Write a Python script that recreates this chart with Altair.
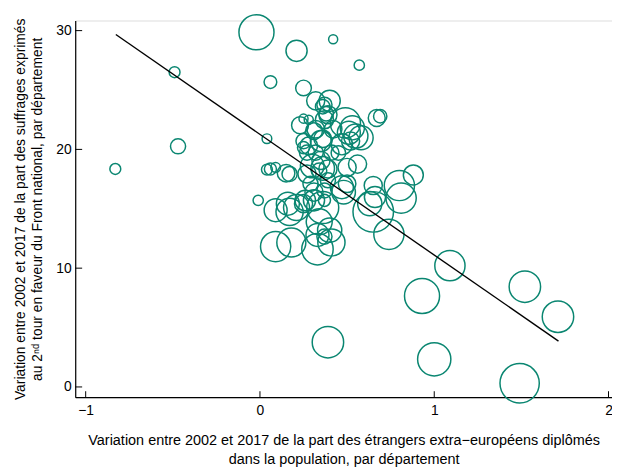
import altair as alt
import pandas as pd

# Bubble data: x = variation of share of non-European graduate foreigners,
# y = variation of FN vote share, r = relative bubble radius (population weight)
XS = [-0.83, -0.49, -0.47, -0.02, 0.21, 0.42, 0.57, 0.06, 0.25, 0.04,
      -0.01, 0.06, 0.04, 0.09, 0.39, 0.93, 1.00, 1.09, 1.52, 1.71,
      1.49, 0.88, 0.80, 0.81, 0.65, 0.66, 0.63, 0.65, 0.74, 0.09,
      0.18, 0.33, 0.41, 0.33, 0.37, 0.40, 0.09, 0.16, 0.17, 0.25,
      0.31, 0.37, 0.47, 0.17, 0.27, 0.34, 0.39, 0.56, 0.50, 0.27,
      0.32, 0.41, 0.25, 0.47, 0.35, 0.25, 0.31, 0.23, 0.25, 0.37,
      0.39, 0.37, 0.32, 0.40, 0.49, 0.53, 0.51, 0.55, 0.58, 0.52,
      0.67, 0.69, 0.35, 0.39, 0.29, 0.31, 0.37,
      0.36, 0.38, 0.28, 0.42, 0.32, 0.28, 0.36, 0.45, 0.30, 0.36,
      0.15, 0.21, 0.26, 0.34, 0.36, 0.48, 0.50]
YS = [18.35, 26.5, 20.26, 29.86, 28.3, 29.28, 27.09, 25.67, 25.17, 20.9,
      15.71, 18.35, 18.3, 18.48, 3.77, 7.66, 2.33, 10.21, 8.44, 5.91,
      0.31, 17.85, 16.96, 15.9, 16.96, 15.99, 15.43, 14.74, 12.85, 11.82,
      12.16, 11.6, 12.16, 12.8, 12.66, 13.2, 14.88, 15.43, 14.74, 15.43,
      15.71, 16.54, 16.82, 17.93, 17.93, 18.21, 18.35, 18.76, 18.48, 19.73,
      19.73, 19.73, 20.15, 20.43, 20.7, 20.7, 21.54, 22.04, 22.59, 22.5,
      22.92, 23.76, 24.09, 24.09, 22.23, 21.82, 21.4, 21.12, 20.98, 20.7,
      22.65, 22.79, 19.07, 17.4, 17.1, 16.4, 15.71,
      23.6, 23.0, 22.5, 21.7, 21.7, 20.3, 20.9, 19.7, 18.6, 18.4,
      18.0, 15.1, 15.7, 13.9, 15.1, 16.4, 17.1]
RS = [1.8, 1.8, 2.5, 5.8, 3.5, 1.5, 1.7, 2.1, 2.6, 1.6,
      1.7, 2.0, 1.8, 1.6, 5.2, 5.8, 5.5, 5.0, 5.2, 5.2,
      6.5, 3.3, 5.0, 5.0, 3.0, 3.5, 4.0, 6.7, 5.0, 5.0,
      4.8, 5.2, 4.5, 3.8, 2.5, 4.0, 3.8, 3.8, 4.5, 3.0,
      3.5, 2.5, 3.8, 2.5, 3.0, 2.5, 3.0, 3.0, 3.0, 2.5,
      2.5, 2.5, 2.0, 3.5, 3.5, 2.5, 2.8, 2.8, 1.5, 3.0,
      3.0, 2.5, 3.0, 3.5, 5.0, 4.0, 3.8, 4.0, 4.0, 3.0,
      2.8, 2.2, 3.0, 2.5, 2.5, 3.0, 2.0,
      2.4, 2.4, 1.5, 2.9, 2.9, 2.9, 2.9, 2.4, 3.9, 3.9,
      2.9, 4.3, 3.4, 4.3, 5.3, 3.9, 2.9]

# Fitted regression line (end points)
FIT_X = [-0.827, 1.713]
FIT_Y = [29.67, 3.86]

X_TICKS = [-1, 0, 1, 2]
Y_TICKS = [0, 10, 20, 30]

X_TITLE = ["Variation entre 2002 et 2017 de la part des étrangers extra\u2212européens diplômés",
           "dans la population, par département"]
Y_TITLE = ["Variation entre 2002 et 2017 de la part des suffrages exprimés",
           "au 2\u207f\u1d48 tour en faveur du Front national, par département"]

FONT = "Liberation Sans, Arial, sans-serif"
TEAL = "#0A8671"
W, H = 543, 381

pts = pd.DataFrame({"x": XS, "y": YS, "r": RS})
fit = pd.DataFrame({"x": FIT_X, "y": FIT_Y})
xt = pd.DataFrame({"x": X_TICKS})
yt = pd.DataFrame({"y": Y_TICKS})

xscale = alt.Scale(domain=[-1.06, 2.02], nice=False, zero=False)
yscale = alt.Scale(domain=[-0.86, 30.85], nice=False, zero=False)

xaxis = alt.Axis(values=X_TICKS, format="d", ticks=False, grid=False, title=X_TITLE,
                 labelFontSize=14, labelPadding=7, labelColor="black",
                 domainColor="black", domainWidth=1.2,
                 titleFontSize=14.6, titleFontWeight="normal", titleColor="black",
                 titlePadding=15, titleLineHeight=19, labelFont=FONT, titleFont=FONT)
yaxis = alt.Axis(values=Y_TICKS, format="d", ticks=False, grid=False, title=Y_TITLE,
                 labelFontSize=14, labelPadding=4, labelColor="black",
                 domainColor="black", domainWidth=1.2,
                 titleFontSize=14, titleFontWeight="normal", titleColor="black",
                 titlePadding=12, titleLineHeight=17, labelFont=FONT, titleFont=FONT)

bubbles = alt.Chart(pts).transform_calculate(
    area="datum.r * datum.r"
).mark_point(shape="circle", filled=False, strokeWidth=1.5, opacity=1,
             color=TEAL).encode(
    x=alt.X("x:Q", scale=xscale, axis=xaxis),
    y=alt.Y("y:Q", scale=yscale, axis=yaxis),
    size=alt.Size("area:Q", legend=None,
                  scale=alt.Scale(type="linear", domain=[0, 42.25], range=[0, 1580])),
)

line = alt.Chart(fit).mark_line(color="black", strokeWidth=1.4).encode(
    x=alt.X("x:Q", scale=xscale), y=alt.Y("y:Q", scale=yscale))

xticks = alt.Chart(xt).mark_rule(color="black", strokeWidth=1).encode(
    x=alt.X("x:Q", scale=xscale), y=alt.value(H), y2=alt.value(H - 6))
yticks = alt.Chart(yt).mark_rule(color="black", strokeWidth=1).encode(
    y=alt.Y("y:Q", scale=yscale), x=alt.value(0), x2=alt.value(7))

chart = alt.layer(bubbles, line, xticks, yticks).properties(
    width=W, height=H,
    autosize=alt.AutoSizeParams(type="none"),
    padding={"left": 68, "top": 10, "right": 0, "bottom": 70},
).configure_view(stroke=None).configure(background="white")

chart.save("out.html", embed_options={"renderer": "svg", "actions": False})
